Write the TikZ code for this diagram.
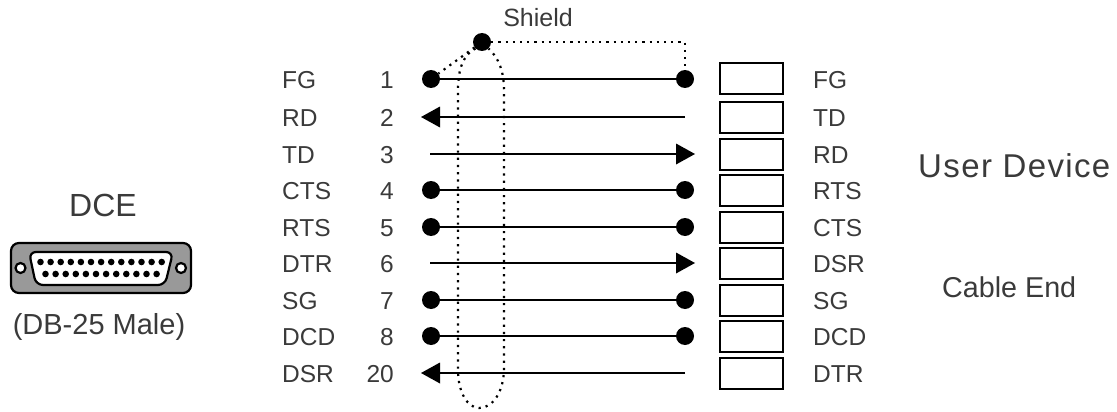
\documentclass[tikz,border=0pt]{standalone}
\usepackage{fontspec}
\setmainfont{Liberation Sans}
\usetikzlibrary{calc}
\definecolor{txt}{HTML}{3A3A3A}
\tikzset{
 px/.style={x=1pt,y=-1pt},
 lab/.style={inner sep=0pt,text=txt,font=\fontsize{24.5}{26}\selectfont},
 pin/.style={circle,fill=black,inner sep=0pt,minimum size=18pt},
 wire/.style={line width=2pt,draw=black},
 tip/.style={fill=black},
 slot/.style={draw=black,line width=2pt,minimum width=63pt,minimum height=31pt,inner sep=0pt},
 shield/.style={line width=2.2pt,dash pattern=on 2.2pt off 5pt,draw=black},
}
\begin{document}
\begin{tikzpicture}[px]
\useasboundingbox (0,0) rectangle (1117,412);
% rows
\foreach \n/\y/\l/\p/\r in {
 1/79/FG/1/FG,
 2/117/RD/2/TD,
 3/154/TD/3/RD,
 4/190/CTS/4/RTS,
 5/227/RTS/5/CTS,
 6/263/DTR/6/DSR,
 7/300/SG/7/SG,
 8/336/DCD/8/DCD,
 9/373/DSR/20/DTR}{
  \node[lab,anchor=base west] (ll\n) at (282,\y+9.5) {\l};
  \node[lab,anchor=base east] (pn\n) at (394,\y+9.5) {\p};
  \node[lab,anchor=base west] (rl\n) at (813,\y+9.5) {\r};
  \node[slot] (box\n) at (751,\y) {};
}
% wires with dots
\foreach \n/\y in {1/79,4/190,5/227,7/300,8/336}{
  \node[pin] (a\n) at (431,\y) {};
  \node[pin] (b\n) at (685,\y) {};
  \draw[wire] (a\n.center) -- (b\n.center);
}
% left arrows
\foreach \n/\y in {2/117,9/373}{
  \coordinate (a\n) at (440,\y);
  \coordinate (b\n) at (685,\y);
  \draw[wire] (b\n) -- (a\n);
  \fill[tip] (a\n) ++(0,-10.5) -- ++(-19,10.5) -- ++(19,10.5) -- cycle;
}
% right arrows
\foreach \n/\y in {3/154,6/263}{
  \coordinate (a\n) at (430,\y);
  \coordinate (b\n) at (676,\y);
  \draw[wire] (a\n) -- (b\n);
  \fill[tip] (b\n) ++(0,-10.5) -- ++(19,10.5) -- ++(-19,10.5) -- cycle;
}
% shield
\node[pin] (sh) at (482,42) {};
\node[lab,font=\fontsize{25}{27}\selectfont,anchor=base] (shl) at (538,27) {Shield};
\draw[shield] (sh) -- (a1);
\draw[shield] (sh.east) -- (685,42) -- (b1.north);
\draw[shield] (sh.south west) .. controls (464,54) and (458,68) .. (458,90) -- (458,370)
  .. controls (458,393) and (468,408) .. (479,408)
  .. controls (494,408) and (504,390) .. (504,368) -- (504,90)
  .. controls (504,72) and (499,58) .. (sh.south east);
% right texts
\node[lab,font=\fontsize{33}{36}\selectfont\addfontfeature{LetterSpace=4.2},anchor=base west] (ud) at (918,177) {User Device};
\node[lab,anchor=base west,font=\fontsize{28.7}{30}\selectfont] (ce) at (942,297) {Cable End};
% left
\node[lab,font=\fontsize{32}{34}\selectfont,anchor=base] (dce) at (103,216) {DCE};
\node[lab,font=\fontsize{29}{32}\selectfont,anchor=base] (db) at (99,334) {(DB-25 Male)};
% connector
\draw[line width=2.2pt,fill=black!40,rounded corners=8pt] (11,243) rectangle (191,293);
\draw[line width=2.2pt,fill=white,rounded corners=7pt] (29,252) -- (173,252) -- (165,285) -- (36,285) -- cycle;
\draw[line width=2.2pt,fill=white] (20.5,268) circle (5pt);
\draw[line width=2.2pt,fill=white] (181,268) circle (5pt);
\foreach \i in {0,...,12} \fill (40.5+\i*10.1,262) circle (3.3pt);
\foreach \i in {0,...,11} \fill (45.5+\i*10.1,274) circle (3.3pt);
\end{tikzpicture}
\end{document}
